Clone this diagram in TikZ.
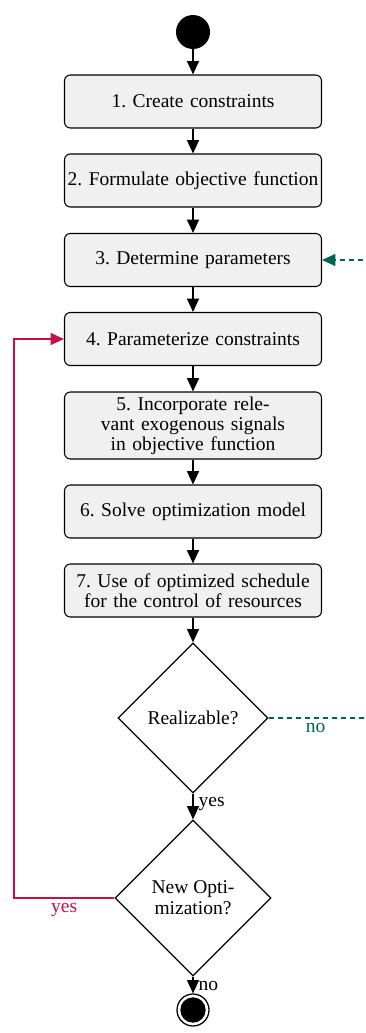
\documentclass[tikz,border=0pt]{standalone}
\usepackage{fontspec}
\setmainfont{Liberation Serif}
\usetikzlibrary{shapes.geometric,arrows.meta}
\definecolor{loopred}{RGB}{196,16,70}
\definecolor{retgreen}{RGB}{0,100,82}
\definecolor{boxgray}{RGB}{240,240,240}

\begin{document}
\begin{tikzpicture}[x=0.6pt,y=-0.6pt,
  >={Triangle[length=8pt,width=7.2pt]},
  every node/.style={font=\fontsize{11.7}{12}\selectfont},
  flow/.style={->,line width=0.8pt},
  stepbox/.style={draw,line width=0.65pt,fill=boxgray,rounded corners=3.5pt,
    text width=153pt,inner sep=0.6pt,align=center,minimum height=31.8pt},
  decision/.style={draw,diamond,aspect=1,inner sep=0pt,line width=0.75pt,align=center,
    font=\fontsize{11.7}{12.6}\selectfont},
  startdot/.style={circle,fill=black,inner sep=0pt,minimum size=20.4pt},
  endring/.style={circle,draw,line width=0.75pt,inner sep=0pt,minimum size=19.2pt},
  enddot/.style={circle,fill=black,inner sep=0pt,minimum size=15.2pt},
  lbl/.style={inner sep=1pt}
]
\clip (0,0) rectangle (366,1033);

% start marker
\node[startdot] (start) at (193,32) {};

% process steps
\node[stepbox] (s1) at (193,101.5) {1.\ Create constraints};
\node[stepbox] (s2) at (193,180.5) {2.\ Formulate objective function};
\node[stepbox] (s3) at (193,260) {3.\ Determine parameters};
\node[stepbox] (s4) at (193,339) {4.\ Parameterize constraints};
\node[stepbox,minimum height=40.2pt] (s5) at (193,425.5)
  {5.\ Incorporate rele-\\vant exogenous signals\\in objective function};
\node[stepbox] (s6) at (193,511.5) {6.\ Solve optimization model};
\node[stepbox] (s7) at (193,590.5) {7.\ Use of optimized schedule\\for the control of resources};

% decisions
\node[decision,minimum size=90pt] (real) at (193,718) {Realizable?};
\node[decision,minimum size=93.6pt] (newopt) at (193,898) {New Opti-\\mization?};

% final node
\node[endring] (stop) at (193,1010) {};
\node[enddot] (stopdot) at (193,1010) {};

% main flow
\draw[flow] (start) -- (s1);
\draw[flow] (s1) -- (s2);
\draw[flow] (s2) -- (s3);
\draw[flow] (s3) -- (s4);
\draw[flow] (s4) -- (s5);
\draw[flow] (s5) -- (s6);
\draw[flow] (s6) -- (s7);
\draw[flow] (s7) -- (real);
\draw[flow] (real) -- (newopt) node[lbl,pos=0.4,anchor=west,xshift=2pt] {yes};
\draw[flow] (newopt) -- (stop) node[lbl,pos=0.55,anchor=west,xshift=2pt] {no};

% loop back for a new optimization
\coordinate (redcorner) at (14,898);
\draw[flow,color=loopred] (newopt.west) -- (redcorner)
  node[lbl,pos=0.5,below,yshift=-1.5pt,text=loopred] {yes}
  |- (s4.west);

% not realizable: back to parameter determination
\coordinate (greenout) at (420,718);
\coordinate (greenup) at (420,260);
\draw[flow,color=retgreen,dash pattern=on 3pt off 2.4pt] (real.east) -- (greenout)
  node[lbl,pos=0.31,below,yshift=-1.5pt,text=retgreen] {no}
  -- (greenup) -- (s3.east);
\end{tikzpicture}
\end{document}
